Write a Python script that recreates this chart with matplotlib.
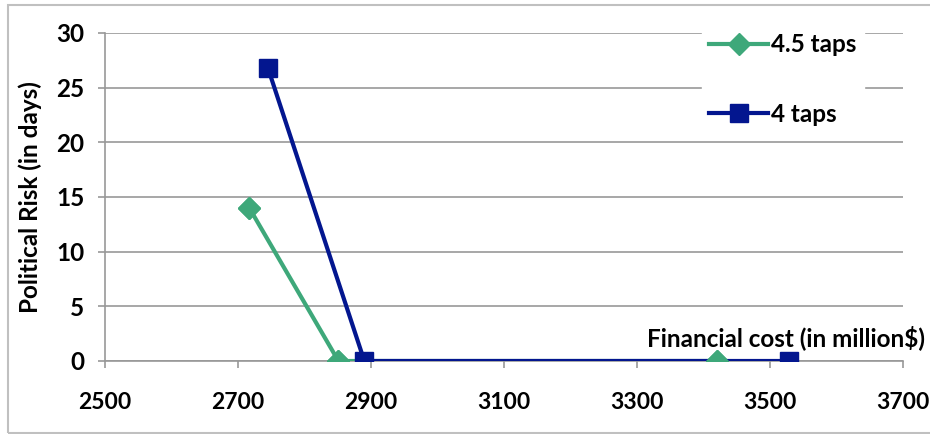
import matplotlib.pyplot as plt
from matplotlib.patches import Rectangle

# financial cost (million $) vs political risk (days)
cost_45 = [2717, 2851, 3420]
risk_45 = [14, 0, 0]
cost_4 = [2745, 2890, 3529]
risk_4 = [26.8, 0, 0]
x_ticks = [2500, 2700, 2900, 3100, 3300, 3500, 3700]
y_ticks = [0, 5, 10, 15, 20, 25, 30]

green = '#3ea87a'
blue = '#03168f'
grid_c = '#989898'
fs = 17.5

plt.rcParams['font.family'] = ['Lato', 'DejaVu Sans']
plt.rcParams['font.weight'] = 'bold'

fig = plt.figure(figsize=(9.3, 4.34), dpi=100)
ax = fig.add_axes([105 / 930, 1 - 361 / 434, 798 / 930, 328 / 434])

ax.plot(cost_45, risk_45, color=green, lw=3, marker='D', ms=11,
        label='4.5 taps', zorder=3)
ax.plot(cost_4, risk_4, color=blue, lw=3, marker='s', ms=13,
        label='4 taps', zorder=4)
# keep the diamonds on top of the navy line
ax.plot(cost_45, risk_45, ls='none', color=green, marker='D', ms=11, zorder=5)

ax.set_xlim(2500, 3700)
ax.set_ylim(0, 30)
ax.set_xticks(x_ticks)
ax.set_yticks(y_ticks)
ax.yaxis.grid(True, color=grid_c, lw=1.2)
ax.set_axisbelow(True)
for s in ['top', 'right']:
    ax.spines[s].set_visible(False)
ax.spines['left'].set_color(grid_c)
ax.spines['bottom'].set_color(grid_c)
ax.spines['left'].set_linewidth(1.2)
ax.spines['bottom'].set_linewidth(1.2)
ax.tick_params(axis='both', colors=grid_c, length=5, width=1.2,
               labelcolor='black', labelsize=fs)
ax.tick_params(axis='x', pad=17, labelsize=16.5)
ax.tick_params(axis='y', pad=10)
for lbl in ax.get_xticklabels() + ax.get_yticklabels():
    lbl.set_fontweight('bold')

ax.set_ylabel('Political Risk (in days)', fontsize=fs, fontweight='bold',
              labelpad=10)
fig.text(925 / 930, 1 - 338 / 434, 'Financial cost (in million$)',
         ha='right', va='center', fontsize=fs, fontweight='bold')

leg = ax.legend(loc='upper left', bbox_to_anchor=(690 / 930, 1 - 14 / 434),
                bbox_transform=fig.transFigure, frameon=True, framealpha=1,
                edgecolor='white', fontsize=fs, handlelength=2.4,
                handletextpad=0.15, labelspacing=1.9, borderpad=0.3)
for t in leg.get_texts():
    t.set_fontweight('bold')

fig.patches.append(Rectangle((8 / 930, 1 / 434), 1, 1 - 6 / 434,
                             transform=fig.transFigure, fill=False,
                             edgecolor='#c0c0c0', lw=1.5))

fig.savefig('out.png', dpi=100)
